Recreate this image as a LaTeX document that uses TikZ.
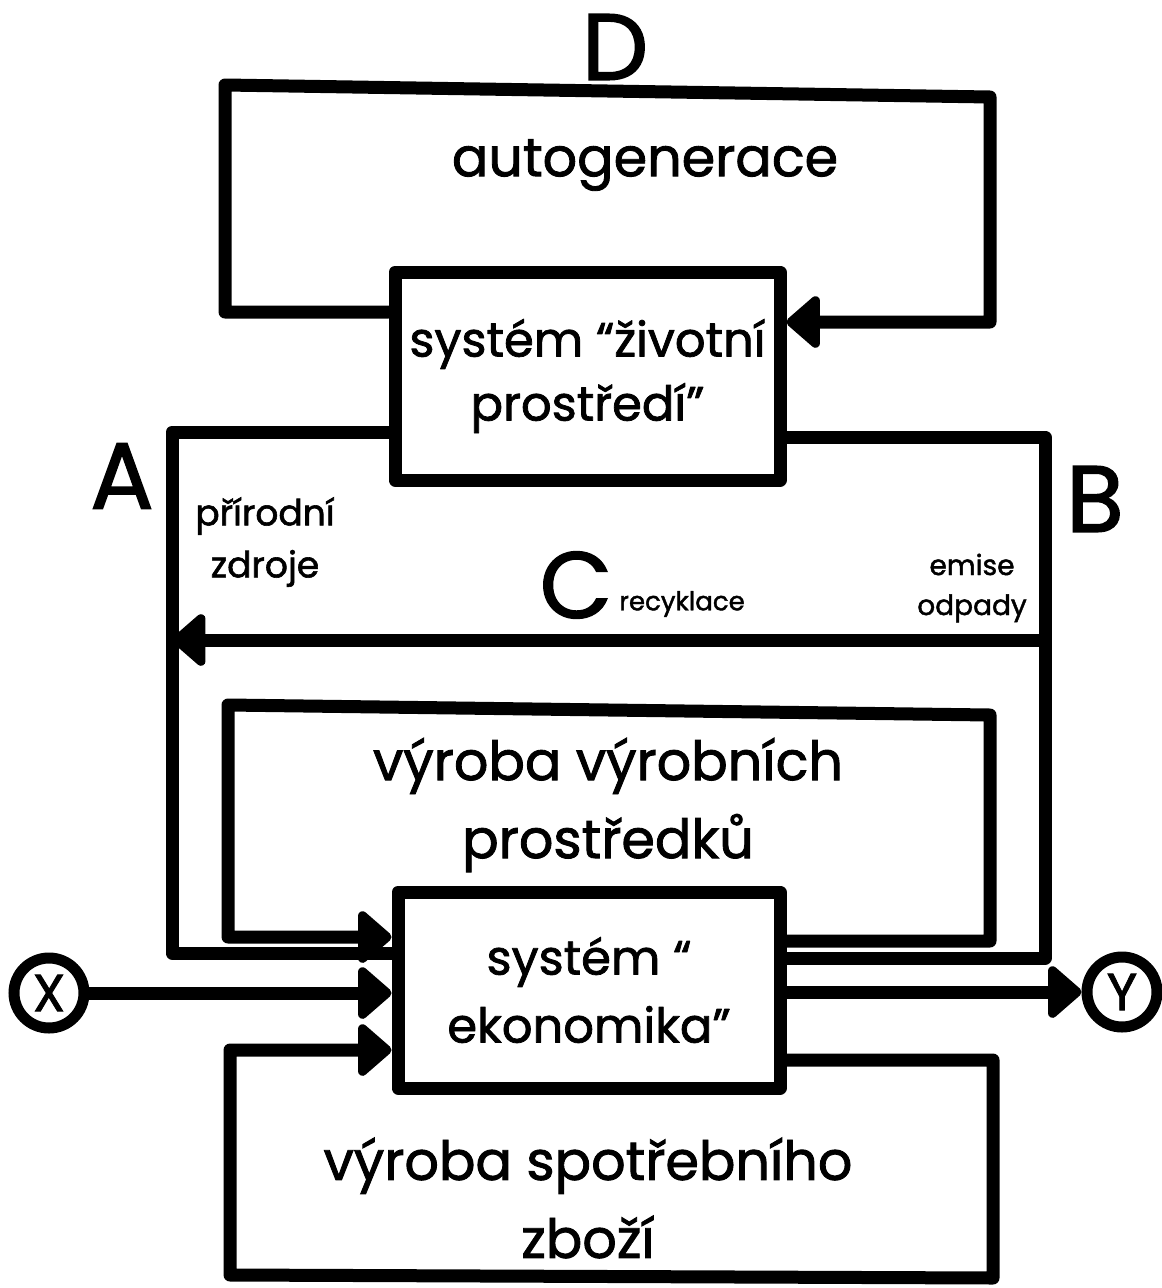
\documentclass[tikz,border=0pt]{standalone}
\usepackage{fontspec}
\setmainfont{Poppins}[FakeBold=1.6]
\newfontfamily\popm{Poppins}[FakeBold=1.6]
\usetikzlibrary{arrows.meta}
\begin{document}
\begin{tikzpicture}[x=1pt,y=-1pt,
  conn/.style={line width=13pt,line join=round,line cap=round},
  tip/.style={-{Triangle[length=36pt,width=60pt,round]}},
  sysbox/.style={draw,line width=13pt,line join=round,rectangle,inner sep=0pt,align=center,font=\popm\fontsize{48}{68}\selectfont},
  big/.style={font=\popm\fontsize{94}{94}\selectfont,inner sep=0pt},
  mid/.style={font=\popm\fontsize{54}{78}\selectfont,align=center,inner sep=0pt},
  small/.style={font=\popm\fontsize{36}{52}\selectfont,align=center,inner sep=0pt},
  circ/.style={draw,circle,line width=11pt,minimum size=70pt,inner sep=0pt,font=\popm\fontsize{52}{52}\selectfont}]
\useasboundingbox (0,0) rectangle (1162,1288);
% boxes
\node[sysbox,minimum width=385pt,minimum height=208pt] (env) at (587.5,376) {\raisebox{-4pt}{systém “životní}\\prostředí”};
\node[sysbox,minimum width=382pt,minimum height=196pt] (econ) at (589,990) {systém “\\ekonomika”};
\node[circ] (X) at (49,993) {X};
\node[circ] (Y) at (1122,992) {Y};
% coordinates
\coordinate (d1) at (225,312);
\coordinate (d2) at (225,85);
\coordinate (d3) at (990,97);
\coordinate (d4) at (990,322);
\coordinate (a1) at (172,432);
\coordinate (a2) at (172,953);
\coordinate (p1) at (990,941);
\coordinate (p2) at (990,715);
\coordinate (p3) at (228,705);
\coordinate (p4) at (228,937);
\coordinate (b1) at (1045,958);
\coordinate (b2) at (1045,437);
\coordinate (c1) at (1045,640);
\coordinate (c2) at (172,640);
\coordinate (s1) at (993,1060);
\coordinate (s2) at (993,1278);
\coordinate (s3) at (230,1275);
\coordinate (s4) at (230,1050);
% D loop
\draw[conn,tip] (env.west |- d1) -- (d1) -- (d2) -- (d3) -- (d4) -- (env.east |- d4);
% A
\draw[conn] (env.west |- a1) -- (a1) -- (a2) -- (econ.west |- a2);
% production loop
\draw[conn,tip] (econ.east |- p1) -- (p1) -- (p2) -- (p3) -- (p4) -- (econ.west |- p4);
% B
\draw[conn] (econ.east |- b1) -- (b1) -- (b2) -- (env.east |- b2);
% C
\draw[conn,tip] (c1) -- (c2);
% X, Y
\draw[conn,tip] (X.east) -- (econ.west |- X.east);
\draw[conn,tip] (econ.east |- Y.west) -- (Y.west);
% consumer loop
\draw[conn,tip] (econ.east |- s1) -- (s1) -- (s2) -- (s3) -- (s4) -- (econ.west |- s4);
% labels
\node[big] (lD) at (615,47) {D};
\node[big] (lA) at (122,476) {A};
\node[big] (lB) at (1095,499) {B};
\node[big] (lC) at (576,585) {C};
\node[font=\popm\fontsize{26}{26}\selectfont,inner sep=0pt] (lrec) at (682,604) {recyklace};
\node[mid] (tauto) at (645,165) {autogenerace};
\node[mid] (tprod) at (608,805) {výroba výrobních\\prostředků};
\node[mid] (tcons) at (588,1198) {výroba spotřebního\\zboží};
\node[small] (tprir) at (265,542) {přírodní\\zdroje};
\node[small,font=\popm\fontsize{28}{40}\selectfont] (temis) at (972,588) {emise\\odpady};
\end{tikzpicture}
\end{document}
